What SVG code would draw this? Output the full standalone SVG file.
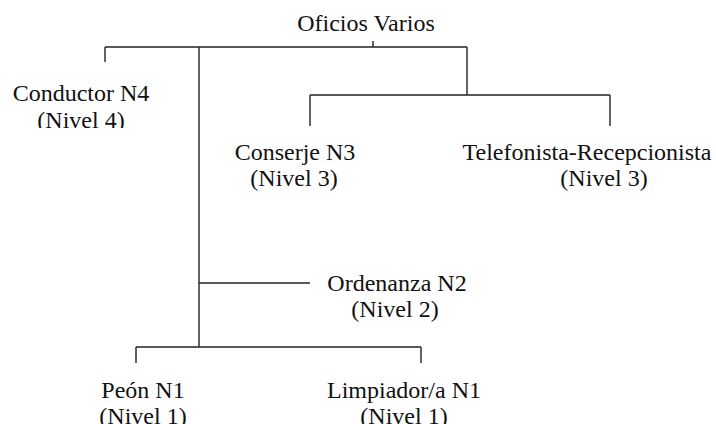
<svg xmlns="http://www.w3.org/2000/svg" width="716" height="424" viewBox="0 0 716 424">
<style>
.c{stroke:#222;stroke-width:1.4;fill:none}
</style>
<defs>
<clipPath id="clipC"><rect x="0" y="70" width="200" height="58"/></clipPath>
</defs>
<rect width="716" height="424" fill="#fff"/>
<g id="connectors">
<path class="c" d="M373 41V47M105 47H467M105 47V62M199 47V347M467 47V95M310 95H610M310 95V126M610 95V126M199 283H310M136 347H421M136 347V363M421 347V363"/>
</g>
<g id="oficios"><text x="366" y="31" font-family="Liberation Serif" font-size="24" fill="#111" text-anchor="middle">Oficios Varios</text></g>
<g id="conductor" clip-path="url(#clipC)"><text x="81" y="101" font-family="Liberation Serif" font-size="24" fill="#111" text-anchor="middle">Conductor N4</text><text x="81" y="128" font-family="Liberation Serif" font-size="24" fill="#111" text-anchor="middle">(Nivel 4)</text></g>
<g id="conserje"><text x="295" y="160" font-family="Liberation Serif" font-size="24" fill="#111" text-anchor="middle">Conserje N3</text><text x="294" y="186" font-family="Liberation Serif" font-size="24" fill="#111" text-anchor="middle">(Nivel 3)</text></g>
<g id="telefonista"><text x="587" y="160" font-family="Liberation Serif" font-size="24" fill="#111" text-anchor="middle">Telefonista-Recepcionista</text><text x="604" y="186" font-family="Liberation Serif" font-size="24" fill="#111" text-anchor="middle">(Nivel 3)</text></g>
<g id="ordenanza"><text x="397" y="291" font-family="Liberation Serif" font-size="24" fill="#111" text-anchor="middle">Ordenanza N2</text><text x="395" y="317" font-family="Liberation Serif" font-size="24" fill="#111" text-anchor="middle">(Nivel 2)</text></g>
<g id="peon"><text x="143" y="398" font-family="Liberation Serif" font-size="24" fill="#111" text-anchor="middle">Peón N1</text><text x="143" y="424" font-family="Liberation Serif" font-size="24" fill="#111" text-anchor="middle">(Nivel 1)</text></g>
<g id="limpiador"><text x="404" y="398" font-family="Liberation Serif" font-size="24" fill="#111" text-anchor="middle">Limpiador/a N1</text><text x="404" y="424" font-family="Liberation Serif" font-size="24" fill="#111" text-anchor="middle">(Nivel 1)</text></g>
</svg>
